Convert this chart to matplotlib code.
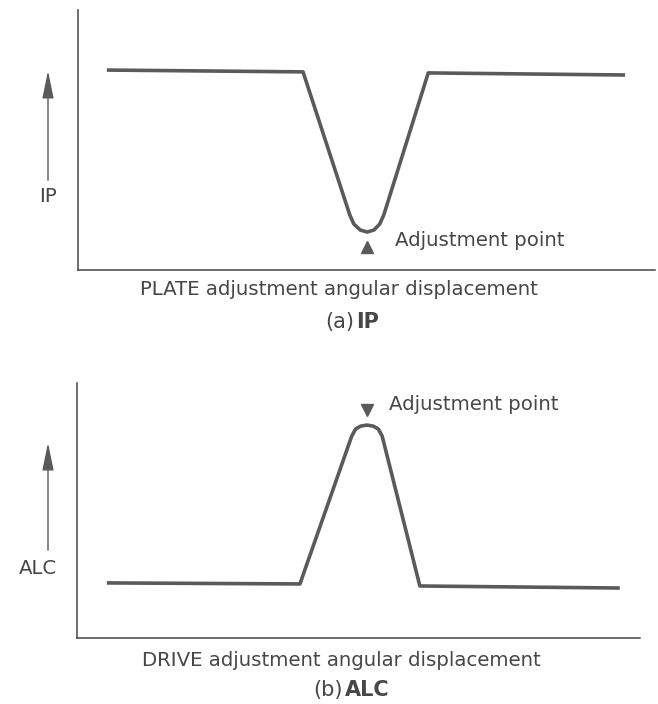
import matplotlib
matplotlib.use("Agg")
import matplotlib.pyplot as plt
from matplotlib.patches import FancyArrowPatch

W, H = 658, 704

# ---- data ----
ip_x = [5.0, 39.0, 47.1, 47.8, 48.9, 50.1, 51.3, 52.3, 53.0, 60.7, 94.8]
ip_y = [76.9, 76.2, 21.2, 17.7, 15.4, 14.6, 15.4, 17.7, 21.2, 75.8, 75.0]
ip_adjust = (50.1, 8.8)

alc_x = [5.3, 39.6, 48.8, 49.5, 50.4, 51.5, 52.6, 53.5, 54.2, 60.9, 96.4]
alc_y = [21.6, 21.2, 79.2, 82.0, 83.1, 83.5, 83.1, 82.0, 79.2, 20.4, 19.6]
alc_adjust = (51.5, 89.4)

adj_label = "Adjustment point"
top_xlabel = "PLATE adjustment angular displacement"
bot_xlabel = "DRIVE adjustment angular displacement"
top_ylabel = "IP"
bot_ylabel = "ALC"

LINE = "#5a5a5a"
INK = "#474747"
FS = 14.2

fig = plt.figure(figsize=(W / 100, H / 100), dpi=100)


def fx(px):
    return px / W


def fy(py):
    return 1 - py / H


def make_axes(left, right, top, bottom):
    ax = fig.add_axes([fx(left), fy(bottom), (right - left) / W, (bottom - top) / H])
    ax.set_xlim(0, 100)
    ax.set_ylim(0, 100)
    for s in ("top", "right"):
        ax.spines[s].set_visible(False)
    for s in ("left", "bottom"):
        ax.spines[s].set_color(INK)
        ax.spines[s].set_linewidth(1.1)
    ax.set_xticks([])
    ax.set_yticks([])
    ax.patch.set_alpha(0)
    return ax


def arrow(x, y0, y1):
    a = FancyArrowPatch((fx(x), fy(y0)), (fx(x), fy(y1)), transform=fig.transFigure,
                        arrowstyle="-|>,head_length=1.7,head_width=0.35",
                        mutation_scale=10, color=LINE, lw=1.0)
    fig.add_artist(a)


# ---- top panel (a) IP ----
ax1 = make_axes(78, 655, 10, 270)
ax1.plot(ip_x, ip_y, color=LINE, lw=2.6, solid_joinstyle="round", solid_capstyle="butt")
ax1.plot([ip_adjust[0]], [ip_adjust[1]], marker="^", color=LINE, ms=9, ls="none")
ax1.text(54.9, 11.5, adj_label, fontsize=FS, color=INK, va="center", ha="left")

fig.text(fx(339), fy(290), top_xlabel, fontsize=FS, color=INK, ha="center", va="center")
fig.text(fx(354), fy(322), "(a)", fontsize=15, color=INK, ha="right", va="center")
fig.text(fx(356), fy(322), "IP", fontsize=15, color=INK, ha="left", va="center", fontweight="bold")
fig.text(fx(48), fy(197), top_ylabel, fontsize=FS, color=INK, ha="center", va="center")
arrow(48, 183, 68)

# ---- bottom panel (b) ALC ----
ax2 = make_axes(77, 640, 383, 638)
ax2.plot(alc_x, alc_y, color=LINE, lw=2.6, solid_joinstyle="round", solid_capstyle="butt")
ax2.plot([alc_adjust[0]], [alc_adjust[1]], marker="v", color=LINE, ms=9, ls="none")
ax2.text(55.4, 91.4, adj_label, fontsize=FS, color=INK, va="center", ha="left")

fig.text(fx(341), fy(660), bot_xlabel, fontsize=FS, color=INK, ha="center", va="center")
fig.text(fx(343), fy(690), "(b)", fontsize=15, color=INK, ha="right", va="center")
fig.text(fx(345), fy(690), "ALC", fontsize=15, color=INK, ha="left", va="center", fontweight="bold")
fig.text(fx(38), fy(568), bot_ylabel, fontsize=FS, color=INK, ha="center", va="center")
arrow(48, 553, 440)

fig.savefig("out.png", dpi=100, facecolor="white")
